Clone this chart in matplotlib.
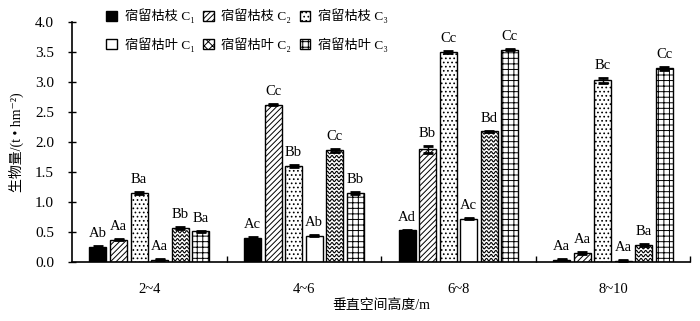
import numpy as np
import matplotlib
matplotlib.use('Agg')
import matplotlib.pyplot as plt
from matplotlib.patches import Patch

plt.rcParams['font.family'] = ['Liberation Serif', 'DejaVu Serif', 'Noto Sans CJK SC']
plt.rcParams['hatch.linewidth'] = 0.7

# 数据
groups = ['2~4', '4~6', '6~8', '8~10']
series = ['宿留枯枝 C₁', '宿留枯枝 C₂', '宿留枯枝 C₃',
          '宿留枯叶 C₁', '宿留枯叶 C₂', '宿留枯叶 C₃']
branch_c1 = [0.25, 0.40, 0.53, 0.04]
branch_c2 = [0.37, 2.62, 1.88, 0.15]
branch_c3 = [1.15, 1.60, 3.50, 3.03]
leaf_c1 = [0.04, 0.44, 0.72, 0.02]
leaf_c2 = [0.57, 1.86, 2.18, 0.28]
leaf_c3 = [0.51, 1.15, 3.54, 3.23]
err_branch_c1 = [0.01, 0.01, 0.01, 0.01]
err_branch_c2 = [0.01, 0.01, 0.06, 0.01]
err_branch_c3 = [0.02, 0.02, 0.02, 0.04]
err_leaf_c1 = [0.005, 0.005, 0.01, 0.005]
err_leaf_c2 = [0.02, 0.02, 0.01, 0.02]
err_leaf_c3 = [0.01, 0.01, 0.01, 0.02]
letters = [['Ab', 'Ac', 'Ad', 'Aa'],
           ['Aa', 'Cc', 'Bb', 'Aa'],
           ['Ba', 'Bb', 'Cc', 'Bc'],
           ['Aa', 'Ab', 'Ac', 'Aa'],
           ['Bb', 'Cc', 'Bd', 'Ba'],
           ['Ba', 'Bb', 'Cc', 'Cc']]

values = [branch_c1, branch_c2, branch_c3, leaf_c1, leaf_c2, leaf_c3]
errors = [err_branch_c1, err_branch_c2, err_branch_c3, err_leaf_c1, err_leaf_c2, err_leaf_c3]
colors = ['black', 'white', 'white', 'white', 'white', 'white']
hatches = [None, '//////', '....', None, 'wave', '+++']

fig = plt.figure(figsize=(7, 3.21), dpi=100)
ax = fig.add_axes([0.103, 0.184, 0.883, 0.747])

x = np.arange(len(groups))
width = 0.11
step = 0.133

for j in range(6):
    pos = x + (j - 2.5) * step
    h = hatches[j] if hatches[j] != 'wave' else None
    bars = ax.bar(pos, values[j], width, color=colors[j], edgecolor='black',
                  linewidth=1.0, hatch=h, zorder=2)
    ax.errorbar(pos, values[j], yerr=errors[j], fmt='none', ecolor='black',
                elinewidth=1.0, capsize=3.5, capthick=2.0, zorder=3)
    if hatches[j] == 'wave':
        # 波浪纹理
        per = 0.03
        amp = 0.02
        dy = 0.066
        for b in bars:
            x0 = b.get_x()
            x1 = x0 + b.get_width()
            hh = b.get_height()
            xs = np.linspace(x0, x1, 40)
            for yy in np.arange(dy * 0.6, hh, dy):
                ln, = ax.plot(xs, yy + amp * np.sin(2 * np.pi * (xs - x0) / per),
                              color='black', lw=0.8, zorder=2.5)
                ln.set_clip_path(b)
    for k in range(len(groups)):
        ax.text(pos[k], values[j][k] + errors[j][k] + 0.1, letters[j][k],
                ha='center', va='bottom', fontsize=10.5)

ax.set_xlim(-0.5, 3.5)
ax.set_ylim(0, 4.0)
ax.set_yticks(np.arange(0, 4.01, 0.5))
ax.set_yticklabels([f'{v:.1f}' for v in np.arange(0, 4.01, 0.5)], fontsize=11)
ax.set_xticks(x)
ax.set_xticklabels(groups, fontsize=10.5)
ax.tick_params(axis='x', length=0, pad=15)
ax.set_xticks([0.5, 1.5, 2.5, 3.5], minor=True)
ax.tick_params(axis='x', which='minor', direction='in', length=4, width=1)
ax.tick_params(axis='y', direction='inout', length=6, width=1, pad=10)
ax.spines['top'].set_visible(False)
ax.spines['right'].set_visible(False)
ax.spines['left'].set_linewidth(1.2)
ax.spines['bottom'].set_linewidth(1.2)

ax.set_xlabel('垂直空间高度/m', fontsize=10, labelpad=2)
ax.set_ylabel('生物量/(t • hm⁻²)', fontsize=10, labelpad=8)

handles = []
for j in range(6):
    h = hatches[j] if hatches[j] != 'wave' else 'xxxx'
    handles.append(Patch(facecolor=colors[j], edgecolor='black', hatch=h, linewidth=1.0))
order = [0, 3, 1, 4, 2, 5]
ax.legend([handles[i] for i in order], [series[i] for i in order], ncol=3,
          loc='upper left', bbox_to_anchor=(0.04, 1.095), frameon=False,
          fontsize=9.5, handlelength=0.8, handleheight=0.8, handletextpad=0.6,
          columnspacing=0.65, labelspacing=1.05, borderpad=0.2)

fig.savefig('out.png', dpi=100)
